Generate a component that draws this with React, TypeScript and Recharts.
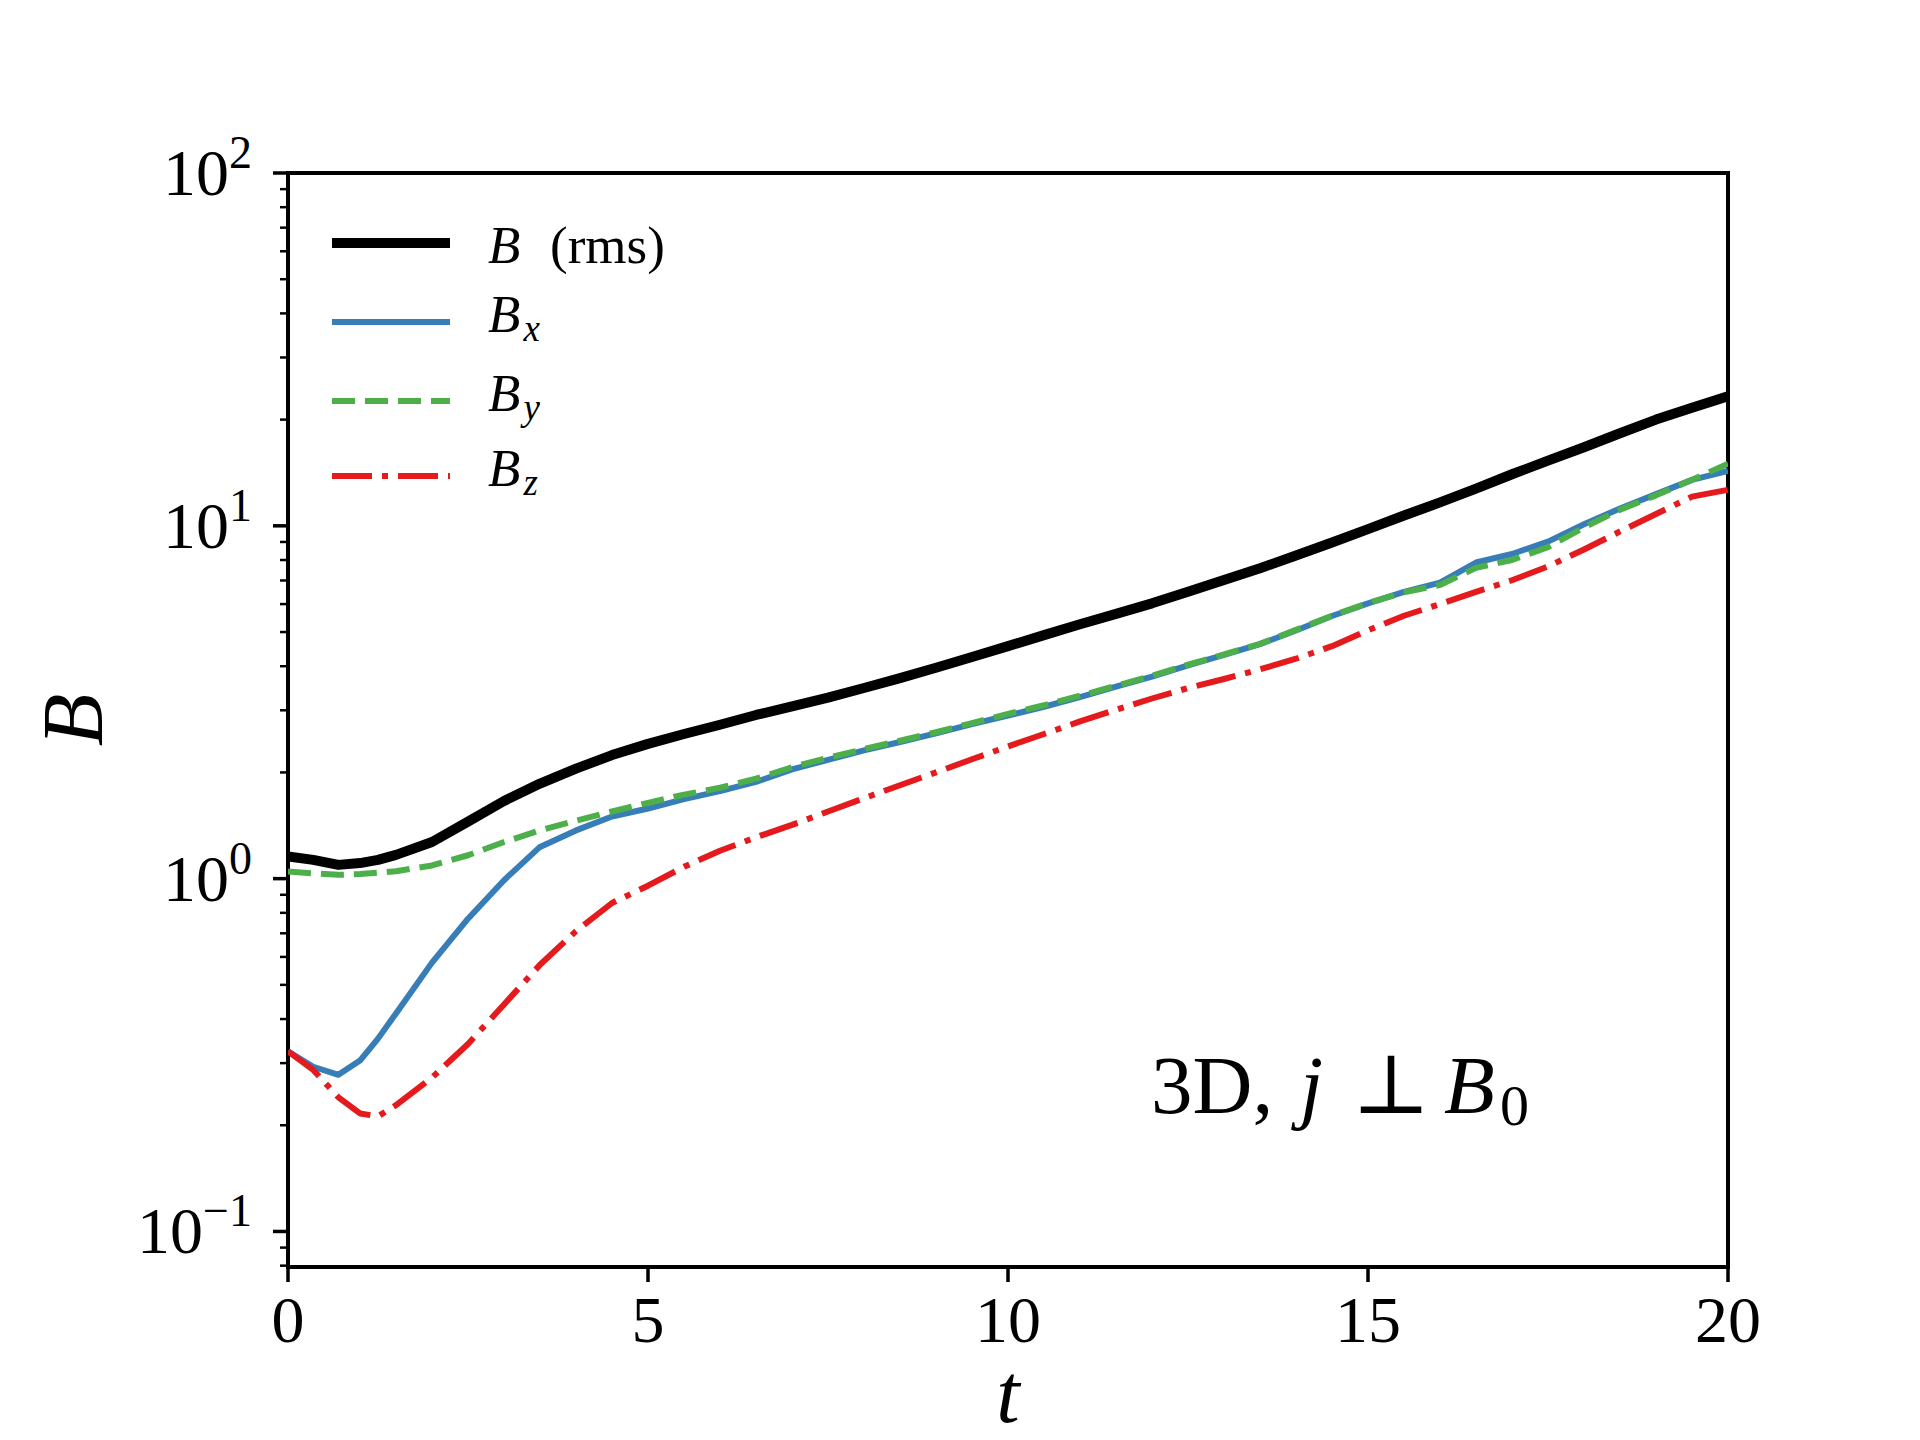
import { LineChart, Line, XAxis, YAxis, Legend, ReferenceArea, Label } from "recharts";

// time samples and field strengths
const T = [
  0, 0.35, 0.7, 1.0, 1.25, 1.5, 2.0, 2.5, 3.0, 3.5, 4.0, 4.5, 5.0, 5.5, 6.0, 6.5, 7.0, 7.5, 8.0, 8.5, 9.0,
  9.5, 10.0, 10.5, 11.0, 11.5, 12.0, 12.5, 13.0, 13.5, 14.0, 14.5, 15.0, 15.5, 16.0, 16.5, 17.0, 17.5, 18.0,
  18.5, 19.0, 19.5, 20.0,
];
const B_RMS = [
  1.156, 1.13, 1.094, 1.107, 1.13, 1.168, 1.27, 1.45, 1.66, 1.86, 2.05, 2.24, 2.41, 2.57, 2.73, 2.91, 3.08,
  3.26, 3.47, 3.7, 3.96, 4.25, 4.56, 4.9, 5.26, 5.63, 6.03, 6.5, 7.02, 7.58, 8.24, 8.97, 9.79, 10.7, 11.65,
  12.75, 14.0, 15.3, 16.7, 18.3, 20.0, 21.6, 23.3,
];
const B_X = [
  0.324, 0.293, 0.278, 0.305, 0.352, 0.415, 0.578, 0.77, 0.99, 1.23, 1.37, 1.5, 1.58, 1.68, 1.77, 1.88, 2.04,
  2.17, 2.31, 2.44, 2.58, 2.74, 2.9, 3.07, 3.27, 3.5, 3.74, 4.02, 4.31, 4.62, 5.05, 5.55, 6.03, 6.5, 6.9,
  7.87, 8.32, 9.02, 10.1, 11.2, 12.3, 13.5, 14.3,
];
const B_Y = [
  1.047, 1.035, 1.025, 1.03, 1.04, 1.05, 1.09, 1.165, 1.27, 1.37, 1.46, 1.55, 1.64, 1.73, 1.81, 1.92, 2.07,
  2.2, 2.33, 2.46, 2.6, 2.76, 2.93, 3.1, 3.3, 3.52, 3.76, 4.04, 4.32, 4.63, 5.07, 5.56, 6.04, 6.48, 6.8,
  7.6, 8.0, 8.7, 9.9, 11.1, 12.2, 13.5, 15.0,
];
const B_Z = [
  0.324, 0.287, 0.24, 0.216, 0.212, 0.228, 0.273, 0.34, 0.44, 0.57, 0.71, 0.853, 0.955, 1.08, 1.2, 1.31,
  1.42, 1.55, 1.69, 1.84, 2.0, 2.18, 2.37, 2.57, 2.79, 3.01, 3.24, 3.47, 3.68, 3.92, 4.2, 4.56, 5.06, 5.56,
  6.0, 6.5, 7.01, 7.67, 8.57, 9.64, 10.8, 12.1, 12.65,
];

const X_TICKS = [0, 5, 10, 15, 20];
const Y_MAJOR = [0.1, 1, 10, 100];
const Y_MINOR = [
  0.08, 0.09, 0.2, 0.3, 0.4, 0.5, 0.6, 0.7, 0.8, 0.9, 2, 3, 4, 5, 6, 7, 8, 9, 20, 30, 40, 50, 60, 70, 80, 90,
];
const Y_MIN = 0.0793;
const Y_MAX = 100;

const SERIF = '"Liberation Serif", "DejaVu Serif", serif';

const SERIES = [
  { key: "rms", sub: "", color: "#000000", width: 10, dash: undefined as string | undefined },
  { key: "bx", sub: "x", color: "#377eb8", width: 6, dash: undefined },
  { key: "by", sub: "y", color: "#4daf4a", width: 6, dash: "23 10" },
  { key: "bz", sub: "z", color: "#e41a1c", width: 6, dash: "40 10 6 10" },
];

const data = T.map((t, i) => ({ t, rms: B_RMS[i], bx: B_X[i], by: B_Y[i], bz: B_Z[i] }));

const YTick = (props: any) => {
  const { x, y, payload } = props;
  const v = payload.value as number;
  const exp = Math.round(Math.log10(v));
  const major = Math.abs(Math.log10(v) - exp) < 1e-6;
  return (
    <g>
      <line x1={x} x2={x - (major ? 15 : 8)} y1={y} y2={y} stroke="#000" strokeWidth={major ? 3.5 : 2.5} />
      {major && (
        <text x={x - 36} y={y + 22} textAnchor="end" fontFamily={SERIF} fontSize={66} fill="#000">
          10
          <tspan dy={-27} fontSize={46}>
            {exp < 0 ? `\u2212${-exp}` : exp}
          </tspan>
        </text>
      )}
    </g>
  );
};

const XTick = (props: any) => {
  const { x, y, payload } = props;
  return (
    <g>
      <line x1={x} x2={x} y1={y} y2={y + 15} stroke="#000" strokeWidth={3.5} />
      <text x={x} y={y + 75} textAnchor="middle" fontFamily={SERIF} fontSize={66} fill="#000">
        {payload.value}
      </text>
    </g>
  );
};

const LEGEND_ROWS = [243, 322, 401, 476];

const LegendBox = () => (
  <svg width={800} height={560} style={{ display: "block" }}>
    {SERIES.map((s, i) => {
      const y = LEGEND_ROWS[i];
      return (
        <g key={s.key}>
          <line x1={332} x2={450} y1={y} y2={y} stroke={s.color} strokeWidth={s.width} strokeDasharray={s.dash} />
          {s.sub ? (
            <text x={488} y={y + 10} fontFamily={SERIF} fontSize={53} fill="#000">
              <tspan fontStyle="italic">B</tspan>
              <tspan fontStyle="italic" fontSize={37} dx={3} dy={9}>
                {s.sub}
              </tspan>
            </text>
          ) : (
            <text x={488} y={y + 20} fontFamily={SERIF} fontSize={53} fill="#000">
              <tspan fontStyle="italic">B</tspan>
              <tspan x={550}>(rms)</tspan>
            </text>
          )}
        </g>
      );
    })}
  </svg>
);

export default function App() {
  return (
    <div style={{ position: "absolute", left: 0, top: 0, background: "#fff" }}>
      <LineChart width={1920} height={1440} data={data} margin={{ top: 173, right: 192, bottom: 0, left: 0 }}>
        <XAxis
          dataKey="t"
          type="number"
          domain={[0, 20]}
          ticks={X_TICKS}
          interval={0}
          allowDataOverflow
          height={173}
          axisLine={false}
          tickLine={false}
          tickSize={0}
          tickMargin={0}
          tick={<XTick />}
        >
          <Label
            content={(p: any) => {
              const vb = p.viewBox;
              return (
                <text
                  x={vb.x + vb.width / 2}
                  y={vb.y + 155}
                  textAnchor="middle"
                  fontFamily={SERIF}
                  fontStyle="italic"
                  fontSize={84}
                  fill="#000"
                >
                  t
                </text>
              );
            }}
          />
        </XAxis>
        <YAxis
          type="number"
          scale="log"
          domain={[Y_MIN, Y_MAX]}
          ticks={[...Y_MINOR, ...Y_MAJOR]}
          interval={0}
          allowDataOverflow
          width={288}
          axisLine={false}
          tickLine={false}
          tickSize={0}
          tickMargin={0}
          tick={<YTick />}
        >
          <Label
            content={(p: any) => {
              const vb = p.viewBox;
              const cx = vb.x + 102;
              const cy = vb.y + vb.height / 2;
              return (
                <text
                  x={cx}
                  y={cy}
                  transform={`rotate(-90 ${cx} ${cy})`}
                  textAnchor="middle"
                  fontFamily={SERIF}
                  fontStyle="italic"
                  fontSize={86}
                  fill="#000"
                >
                  B
                </text>
              );
            }}
          />
        </YAxis>
        {SERIES.map((s) => (
          <Line
            key={s.key}
            dataKey={s.key}
            type="linear"
            stroke={s.color}
            strokeWidth={s.width}
            strokeDasharray={s.dash}
            strokeLinejoin="round"
            dot={false}
            activeDot={false}
            isAnimationActive={false}
          />
        ))}
        <ReferenceArea
          x1={0}
          x2={20}
          y1={Y_MIN}
          y2={Y_MAX}
          ifOverflow="visible"
          fill="none"
          fillOpacity={0}
          stroke="#000"
          strokeWidth={4}
        />
        <text x={1151} y={1113} fontFamily={SERIF} fontSize={83} fill="#000">
          3D,
          <tspan x={1300} fontStyle="italic">
            j
          </tspan>
          <tspan x={1352}>{"\u22A5"}</tspan>
          <tspan x={1444} fontStyle="italic">
            B
          </tspan>
          <tspan x={1500} fontSize={58} dy={12}>
            0
          </tspan>
        </text>
        <Legend
          layout="vertical"
          align="center"
          verticalAlign="middle"
          wrapperStyle={{ left: 0, top: 0, width: 800, height: 560, pointerEvents: "none" }}
          content={() => <LegendBox />}
        />
      </LineChart>
    </div>
  );
}
